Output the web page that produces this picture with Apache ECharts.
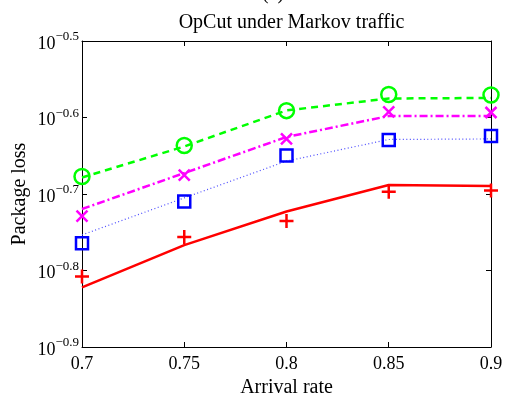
<!DOCTYPE html>
<html>
<head>
<meta charset="utf-8">
<script src="https://cdn.jsdelivr.net/npm/echarts@6/dist/echarts.min.js"></script>
<style>
  html, body { margin: 0; padding: 0; background: #fff; }
  #chart { width: 505px; height: 394px; }
</style>
</head>
<body>
<div id="chart"></div>
<script>
// Arrival rates on the x axis
const arrivalRates = [0.7, 0.75, 0.8, 0.85, 0.9];

// Simulated package loss (markers)
const greenMarks   = [0.2103, 0.2309, 0.2564, 0.2692, 0.2688];
const magentaMarks = [0.1867, 0.2112, 0.2355, 0.2554, 0.2550];
const blueMarks    = [0.1720, 0.1950, 0.2240, 0.2348, 0.2376];
const redMarks     = [0.1556, 0.1753, 0.1839, 0.2009, 0.2016];

// Analytical package loss (curves)
const greenCurve   = [0.2097, 0.2302, 0.2566, 0.2660, 0.2664];
const magentaCurve = [0.1907, 0.2125, 0.2369, 0.2523, 0.2523];
const blueCurve    = [0.1764, 0.1972, 0.2203, 0.2351, 0.2355];
const redCurve     = [0.1506, 0.1711, 0.1893, 0.2050, 0.2044];

// Log-axis range as exponents of ten
const yMinExp = -0.9;
const yMaxExp = -0.5;

const SERIF = '"Liberation Serif", "Times New Roman", serif';

const pair = (ys) => arrivalRates.map((x, i) => [x, ys[i]]);

const PLUS = 'path://M0,5L10,5M5,0L5,10';
const CROSS = 'path://M0,0L10,10M10,0L0,10';

function curve(ys, color, width, type) {
  return {
    type: 'line', data: pair(ys), showSymbol: false, silent: true,
    lineStyle: { color, width, type }, z: 2
  };
}
function marks(ys, color, symbol, size, bw) {
  return {
    type: 'line', data: pair(ys), symbol, symbolSize: size, showSymbol: true,
    lineStyle: { width: 0, opacity: 0 }, silent: true,
    itemStyle: { color: 'rgba(0,0,0,0)', borderColor: color, borderWidth: bw },
    z: 3
  };
}

const expLabel = (v) => {
  const e = Math.log10(v).toFixed(1).replace('-', '\u2212');
  return '{b|10}{s|' + e + '}';
};

const tickIn = { show: true, inside: true, length: 5, lineStyle: { color: '#000', width: 1 } };
const lineBlack = { show: true, lineStyle: { color: '#000', width: 1 } };

const chart = echarts.init(document.getElementById('chart'), null, { renderer: 'canvas' });
chart.setOption({
  animation: false,
  backgroundColor: '#fff',
  grid: { left: 82, right: 14, top: 41, bottom: 47, containLabel: false, outerBoundsMode: 'none' },
  title: {
    text: 'OpCut under Markov traffic',
    left: 286.5, top: 8, textAlign: 'center',
    textStyle: { fontFamily: SERIF, fontSize: 20, fontWeight: 'normal', color: '#000' }
  },
  graphic: [{
    type: 'text', left: 262, top: -16,
    style: { text: '(a)', font: '20px ' + SERIF, fill: '#000' }
  }],
  xAxis: [{
    type: 'value', min: 0.7, max: 0.9, interval: 0.05,
    axisLine: lineBlack, axisTick: tickIn, splitLine: { show: false },
    axisLabel: { fontFamily: SERIF, fontSize: 18, color: '#000', margin: 8 },
    name: 'Arrival rate', nameLocation: 'middle', nameGap: 23,
    nameTextStyle: { fontFamily: SERIF, fontSize: 20, color: '#000' }
  }, {
    type: 'value', position: 'top', min: 0.7, max: 0.9, interval: 0.05,
    axisLine: lineBlack, axisTick: tickIn, axisLabel: { show: false }, splitLine: { show: false }
  }],
  yAxis: [{
    type: 'log', logBase: 10,
    min: Math.pow(10, yMinExp), max: Math.pow(10, yMaxExp), interval: 0.1,
    axisLine: lineBlack, axisTick: tickIn, splitLine: { show: false }, minorTick: { show: false },
    axisLabel: {
      formatter: expLabel, margin: 3,
      rich: {
        b: { fontFamily: SERIF, fontSize: 18, color: '#000', padding: [6, 0, 0, 0] },
        s: { fontFamily: SERIF, fontSize: 13, color: '#000', padding: [0, 0, 8, 0] }
      }
    },
    name: 'Package loss', nameLocation: 'middle', nameGap: 62, nameRotate: 90,
    nameMoveOverlap: false,
    nameTextStyle: { fontFamily: SERIF, fontSize: 20, color: '#000', verticalAlign: 'middle' }
  }, {
    type: 'log', logBase: 10, position: 'right',
    min: Math.pow(10, yMinExp), max: Math.pow(10, yMaxExp), interval: 0.1,
    axisLine: lineBlack, axisTick: tickIn, axisLabel: { show: false }, splitLine: { show: false }
  }],
  series: [
    curve(greenCurve, '#00ff00', 2.5, [7, 5]),
    curve(magentaCurve, '#ff00ff', 2.5, [8, 3, 2, 3]),
    curve(blueCurve, '#4a4aff', 1.2, [1, 2.5]),
    curve(redCurve, '#ff0000', 2.5, 'solid'),
    marks(greenMarks, '#00ff00', 'circle', 15, 2.5),
    marks(magentaMarks, '#ff00ff', CROSS, 11, 2.5),
    marks(blueMarks, '#0000ff', 'rect', 12, 2.5),
    marks(redMarks, '#ff0000', PLUS, 14, 2.5)
  ]
});
</script>
</body>
</html>
